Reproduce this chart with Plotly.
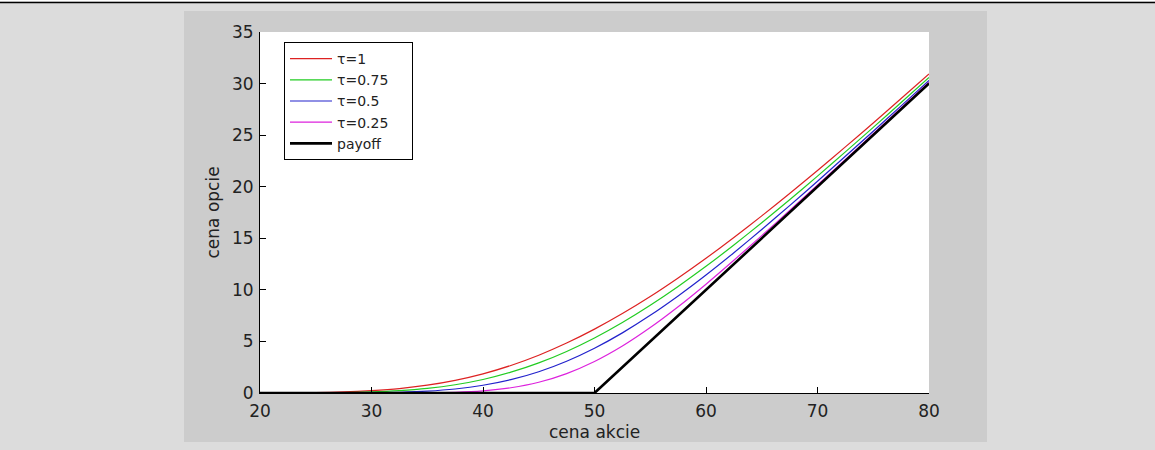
import plotly.graph_objects as go

# stock price grid (cena akcie)
S = [20, 22.5, 25, 27.5, 30, 32.5, 35, 37.5, 40, 42.5, 45, 47.5, 50,
     52.5, 55, 57.5, 60, 62.5, 65, 67.5, 70, 72.5, 75, 77.5, 80]

# option prices (cena opcie)
tau_1 = [0.00, 0.01, 0.04, 0.10, 0.23, 0.43, 0.76, 1.23, 1.86, 2.67, 3.66, 4.84, 6.19,
         7.70, 9.35, 11.15, 13.06, 15.07, 17.17, 19.34, 21.58, 23.86, 26.18, 28.55, 30.93]
tau_075 = [0.00, 0.00, 0.01, 0.04, 0.10, 0.23, 0.45, 0.80, 1.31, 2.02, 2.92, 4.03, 5.34,
           6.84, 8.51, 10.33, 12.28, 14.35, 16.51, 18.74, 21.03, 23.38, 25.75, 28.16, 30.59]
tau_05 = [0.00, 0.00, 0.00, 0.01, 0.02, 0.07, 0.18, 0.39, 0.75, 1.29, 2.06, 3.08, 4.34,
          5.83, 7.53, 9.41, 11.44, 13.60, 15.85, 18.17, 20.53, 22.95, 25.38, 27.84, 30.31]
tau_025 = [0.00, 0.00, 0.00, 0.00, 0.00, 0.00, 0.02, 0.07, 0.21, 0.51, 1.04, 1.88, 3.05,
           4.55, 6.34, 8.36, 10.55, 12.87, 15.26, 17.69, 20.16, 22.64, 25.13, 27.63, 30.13]

payoff_x = [20, 50, 80]
payoff_y = [0, 0, 30]

names = ["τ=1", "τ=0.75", "τ=0.5", "τ=0.25", "payoff"]
colors = ["#dd2222", "#22cc22", "#2222cc", "#dd22dd", "#000000"]

x_ticks = [20, 30, 40, 50, 60, 70, 80]
y_ticks = [0, 5, 10, 15, 20, 25, 30, 35]

W, H = 1155, 450
L, R, T, B = 260, 929, 32, 393  # plot area in px


def px(xp):
    return (xp - L) / (R - L)


def py(yp):
    return (B - yp) / (B - T)


FONT = "DejaVu Sans"
PAD = "\u00a0" * 4
fig = go.Figure()
for i, (vals, nm, col) in enumerate(zip([tau_1, tau_075, tau_05, tau_025], names[:4], colors[:4])):
    label = nm + (PAD if i == 1 else "")
    fig.add_trace(go.Scatter(x=S, y=vals, mode="lines", name=label,
                             line=dict(color=col, width=1.2, shape="spline", smoothing=0.6)))
fig.add_trace(go.Scatter(x=payoff_x, y=payoff_y, mode="lines", name=names[4],
                         line=dict(color=colors[4], width=2.6)))

shapes = [
    # figure panel
    dict(type="rect", xref="paper", yref="paper", x0=px(184), x1=px(987), y0=py(442), y1=py(11),
         fillcolor="#cccccc", line=dict(width=0), layer="below"),
    # axes area
    dict(type="rect", xref="paper", yref="paper", x0=0, x1=1, y0=0, y1=1,
         fillcolor="#ffffff", line=dict(width=0), layer="below"),
    # top rule
    dict(type="rect", xref="paper", yref="paper", x0=px(0), x1=px(W), y0=py(1.5), y1=py(0),
         fillcolor="#ffffff", line=dict(width=0), layer="below"),
    dict(type="line", xref="paper", yref="paper", x0=px(0), x1=px(W), y0=py(2.5), y1=py(2.5),
         line=dict(color="#000000", width=1.5), layer="below"),
]

fig.update_layout(
    width=W, height=H,
    margin=dict(l=L, r=W - R, t=T, b=H - B, pad=0),
    paper_bgcolor="#dcdcdc",
    plot_bgcolor="rgba(0,0,0,0)",
    font=dict(family=FONT, size=17, color="#222222"),
    shapes=shapes,
    showlegend=True,
    legend=dict(x=px(284), y=py(42), xanchor="left", yanchor="top",
                bgcolor="#ffffff", bordercolor="#000000", borderwidth=1,
                font=dict(family=FONT, size=14, color="#222222"),
                tracegroupgap=0, itemwidth=42),
    annotations=[
        dict(text="cena akcie", xref="paper", yref="paper", x=0.5, y=py(432),
             xanchor="center", yanchor="middle", showarrow=False,
             font=dict(family=FONT, size=17, color="#222222")),
        dict(text="cena opcie", xref="paper", yref="paper", x=px(212), y=0.5,
             xanchor="center", yanchor="middle", showarrow=False, textangle=-90,
             font=dict(family=FONT, size=17, color="#222222")),
    ],
)
fig.update_xaxes(range=[20, 80], tickvals=x_ticks, ticktext=[str(v) for v in x_ticks],
                 showgrid=False, zeroline=False, showline=True, linecolor="#000000", linewidth=1,
                 mirror=False, ticks="inside", ticklen=6, tickcolor="#000000", tickwidth=1,
                 ticklabelstandoff=3)
fig.update_yaxes(range=[0, 35], tickvals=y_ticks, ticktext=[str(v) for v in y_ticks],
                 showgrid=False, zeroline=False, showline=True, linecolor="#000000", linewidth=1,
                 mirror=False, ticks="inside", ticklen=6, tickcolor="#000000", tickwidth=1,
                 ticklabelstandoff=2)

fig.write_html("out.html", config={"displayModeBar": False},
               post_script="document.body.style.margin='0';")
